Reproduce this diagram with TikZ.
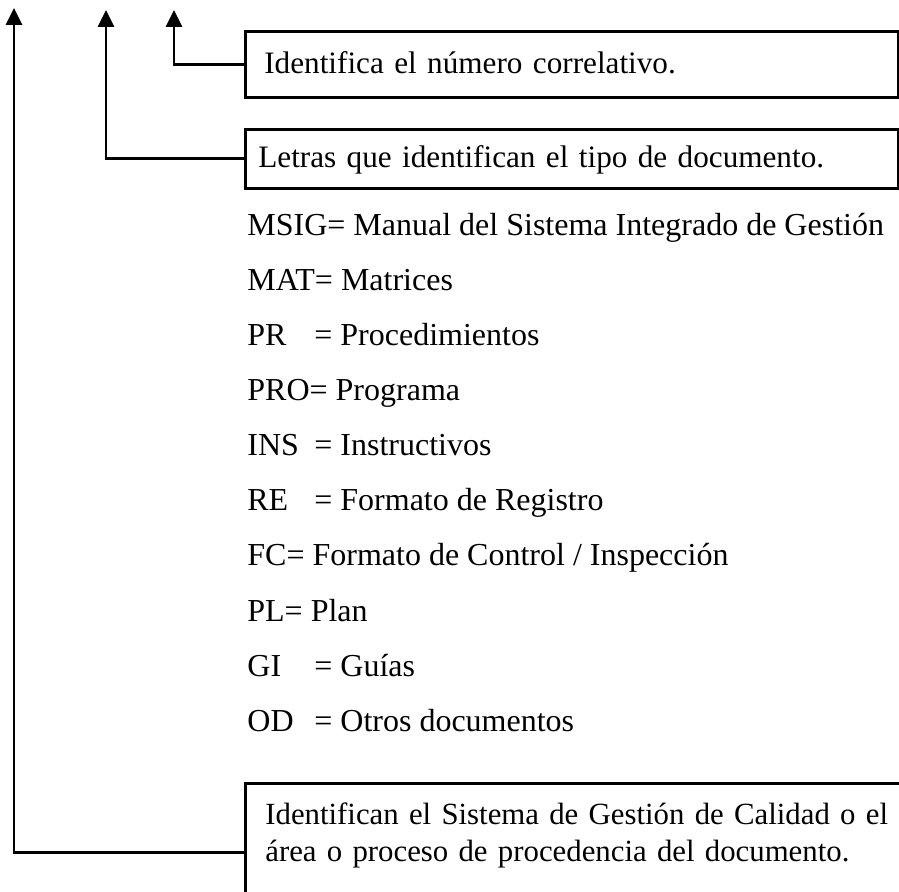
\documentclass[tikz,border=0pt]{standalone}
\usepackage{fontspec}
\setmainfont{Liberation Serif}
\usetikzlibrary{arrows.meta,positioning}
\newcommand{\cod}[1]{\makebox[33.5pt][l]{#1}}
\tikzset{
  codebox/.style={draw,line width=1.35pt,anchor=north west,inner xsep=9.5pt,
    inner ysep=2pt,align=left,text height=11pt,text depth=2pt,
    font=\fontsize{15.6}{18.5}\selectfont},
  codearrow/.style={line width=1.35pt,-{Triangle[length=8.5pt,width=8pt]}},
  item/.style={anchor=base west,inner sep=0pt}
}

\begin{document}
\begin{tikzpicture}[x=0.5pt,y=-0.5pt,line join=miter,
  font=\fontsize{16}{18.5}\selectfont]
 \useasboundingbox (0,0) rectangle (899,892);
 \clip (0,0) rectangle (899,892);
 \coordinate (tipA) at (14,8);
 \coordinate (tipB) at (106,10);
 \coordinate (tipC) at (174,10);
 \node[codebox,minimum width=326.5pt,minimum height=33pt,text width=307.5pt]
  (box1) at (244,30) {Identifica el número correlativo.};
 \node[codebox,minimum width=326.5pt,minimum height=29.5pt,text width=313.5pt,
  inner xsep=6.5pt] (box2) at (244,128)
  {Letras que identifican el tipo de documento.};
 \node[item] (msig) at (247,236) {MSIG= Manual del Sistema Integrado de Gestión};
 \node[item] (mat) at (247,291) {MAT= Matrices};
 \node[item] (pr) at (247,346) {\cod{PR}= Procedimientos};
 \node[item] (pro) at (247,401) {PRO= Programa};
 \node[item] (ins) at (247,456) {\cod{INS}= Instructivos};
 \node[item] (re) at (247,511) {\cod{RE}= Formato de Registro};
 \node[item] (fc) at (247,566) {FC= Formato de Control / Inspección};
 \node[item] (pl) at (247,621) {PL= Plan};
 \node[item] (gi) at (247,676) {\cod{GI}= Guías};
 \node[item] (od) at (247,731) {\cod{OD}= Otros documentos};
 \node[codebox,minimum width=350pt,minimum height=69pt,text width=330pt,
  text height=11pt,text depth=39pt,font=\fontsize{15.4}{18.5}\selectfont]
  (box3) at (244,782)
  {Identifican el Sistema de Gestión de Calidad o el\\
   área o proceso de procedencia del documento.};
 \draw[codearrow] (box1.west) -| (tipC);
 \draw[codearrow] (box2.west) -| (tipB);
 \draw[codearrow] (box3.west) -| (tipA);
\end{tikzpicture}
\end{document}
